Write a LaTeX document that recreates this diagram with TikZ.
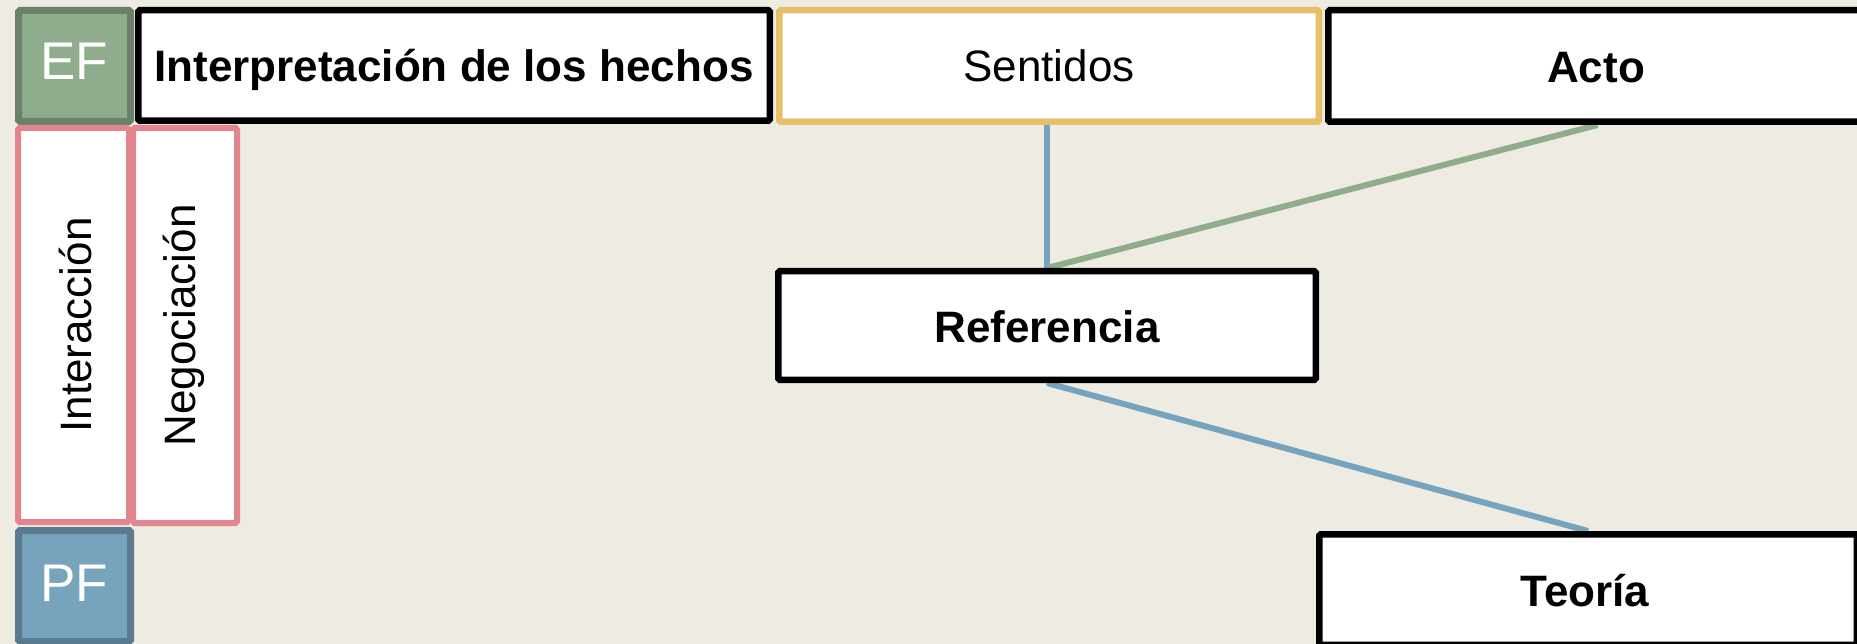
\documentclass[tikz,border=0pt]{standalone}
\usepackage{fontspec}
\setmainfont{Liberation Sans}
\usetikzlibrary{backgrounds}
\definecolor{bgc}{HTML}{EEEBE2}
\definecolor{efill}{HTML}{8FAC8D}
\definecolor{edraw}{HTML}{6C8169}
\definecolor{pfill}{HTML}{77A3BD}
\definecolor{pdraw}{HTML}{597A8F}
\definecolor{yel}{HTML}{E6C068}
\definecolor{pink}{HTML}{E3858F}
\definecolor{gline}{HTML}{8FAD8D}
\definecolor{bline}{HTML}{76A3BE}
\newcommand{\fsz}{\fontsize{44}{50}\selectfont}
\tikzset{
  box/.style={draw=black, line width=6.5pt, fill=white, rounded corners=1.5pt, inner sep=0pt, font=\fsz},
  boldbox/.style={box, font=\fsz\bfseries},
  yelbox/.style={box, draw=yel},
  pinkbox/.style={box, draw=pink, line width=6pt},
  tagbox/.style={line width=7pt, rounded corners=1.5pt, inner sep=0pt, text=white, font=\fontsize{53}{58}\selectfont},
  lbl/.style={inner sep=0pt, text height=32pt, text depth=0pt},
  conn/.style={line width=6pt}
}
\begin{document}
\begin{tikzpicture}[x=1pt,y=-1pt]
\useasboundingbox (0,0) rectangle (1857,644);
\clip (0,0) rectangle (1857,644);
\node[tagbox, fill=efill, draw=edraw, minimum width=112pt, minimum height=111pt] (ef) at (74.5,66) {};
\node[lbl, text=white, font=\fontsize{53}{58}\selectfont] (eftxt) at (74.5,64) {EF};
\node[boldbox, minimum width=631.5pt, minimum height=110.5pt] (interp) at (454,65.5) {};
\node[lbl, font=\fsz\bfseries] (interptxt) at (454,66) {Interpretación de los hechos};
\node[yelbox, minimum width=539.5pt, minimum height=111.5pt] (sent) at (1049,66) {};
\node[lbl, font=\fsz] (senttxt) at (1049,66) {Sentidos};
\node[boldbox, minimum width=538.5pt, minimum height=111.5pt] (acto) at (1597.5,66) {};
\node[lbl, font=\fsz\bfseries] (actotxt) at (1596,66.5) {Acto};
\node[pinkbox, minimum width=111pt, minimum height=394pt] (inter) at (73.5,325) {};
\node[rotate=90, font=\fsz, inner sep=0pt] (intertxt) at (76,325) {Interacción};
\node[pinkbox, minimum width=104pt, minimum height=395pt] (nego) at (185,325.5) {};
\node[rotate=90, font=\fsz, inner sep=0pt] (negotxt) at (184,325.5) {Negociación};
\node[tagbox, fill=pfill, draw=pdraw, minimum width=112pt, minimum height=111pt] (pf) at (74.5,586) {};
\node[lbl, text=white, font=\fontsize{53}{58}\selectfont] (pftxt) at (74.5,585) {PF};
\node[boldbox, minimum width=537.5pt, minimum height=108.5pt] (ref) at (1047,325.5) {};
\node[lbl, font=\fsz\bfseries] (reftxt) at (1047,326.5) {Referencia};
\node[boldbox, minimum width=537.5pt, minimum height=110.5pt] (teo) at (1588,589.5) {};
\node[lbl, font=\fsz\bfseries] (teotxt) at (1585,590) {Teoría};
\begin{scope}[on background layer]
  \fill[bgc] (0,0) rectangle (1857,644);
  \draw[conn, bline] (sent.south -| ref.north) -- (ref.north);
  \draw[conn, gline] (ref.north) -- (acto.south);
  \draw[conn, bline] (ref.south) -- (teo.north);
\end{scope}
\end{tikzpicture}
\end{document}
